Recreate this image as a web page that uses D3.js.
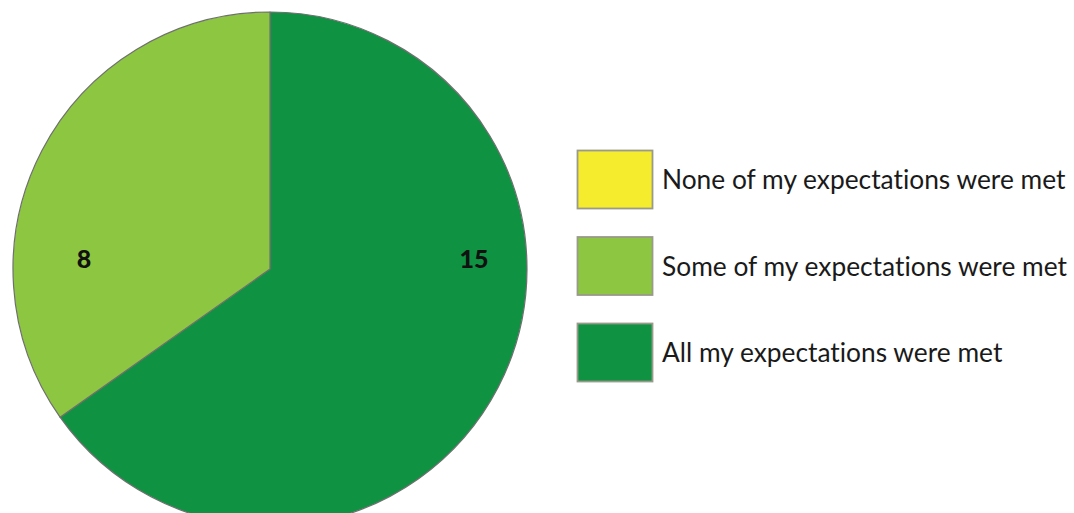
<!DOCTYPE html>
<html><head><meta charset="utf-8">
<script src="https://cdn.jsdelivr.net/npm/d3@7"></script>
<style>body{margin:0;background:#fff;}svg{display:block;}text{font-variant-ligatures:none;font-feature-settings:"liga" 0,"dlig" 0;}</style>
</head><body>
<svg id="chart" width="1074" height="513"></svg>
<script>
// Data
const categories = ["None of my expectations were met", "Some of my expectations were met", "All my expectations were met"];
const values = [0, 8, 15];
const colors = ["#F5EC2E", "#8DC640", "#0F9343"];

const svg = d3.select("#chart");
const cx = 270, cy = 269, r = 257;

// pie: "All" starts at 12 o'clock clockwise, then "Some"
const order = [2, 1, 0];
const pie = d3.pie().sort(null).value(i => values[i]);
const arcs = pie(order);
const arc = d3.arc().innerRadius(0).outerRadius(r);

const g = svg.append("g").attr("transform", `translate(${cx},${cy})`);
g.selectAll("path").data(arcs.filter(d => d.value > 0)).enter().append("path")
  .attr("d", arc)
  .attr("fill", d => colors[d.data])
  .attr("stroke", "#6f6f6f")
  .attr("stroke-width", 1.2)
  .attr("stroke-linejoin", "round");

// value labels (placed on a common horizontal line, like the reference)
const labelPos = {2: [204, -11], 1: [-186, -11]};
g.selectAll("text.val").data(arcs.filter(d => d.value > 0)).enter().append("text")
  .attr("class", "val")
  .attr("x", d => labelPos[d.data][0])
  .attr("y", d => labelPos[d.data][1])
  .attr("text-anchor", "middle")
  .attr("dominant-baseline", "central")
  .attr("font-family", "Lato, 'Open Sans', sans-serif")
  .attr("font-weight", "900")
  .attr("font-size", 25)
  .attr("fill", "#111")
  .text(d => values[d.data]);

// legend
const lx = 577, ly0 = 150, boxW = 75, boxH = 58, step = 86.5;
const lg = svg.append("g");
const items = lg.selectAll("g").data(categories.map((c, i) => i)).enter().append("g")
  .attr("transform", i => `translate(${lx},${ly0 + i * step})`);
items.append("rect")
  .attr("x", 0.5).attr("y", 0.5)
  .attr("width", boxW).attr("height", boxH)
  .attr("fill", i => colors[i])
  .attr("stroke", "#9a9a8a").attr("stroke-width", 1.8);
const texts = items.append("text")
  .attr("x", 85)
  .attr("y", boxH / 2 + 10)
  .attr("font-family", "Lato, 'Open Sans', sans-serif")
  .attr("font-size", 24)
  .attr("fill", "#1a1a1a")
  .text(i => categories[i]);
// fit font size so the longest label spans ~405px
let maxW = 0;
texts.each(function(){ maxW = Math.max(maxW, this.getComputedTextLength()); });
const fs = 24 * 405 / maxW;
texts.attr("font-size", fs);
</script>
</body></html>
